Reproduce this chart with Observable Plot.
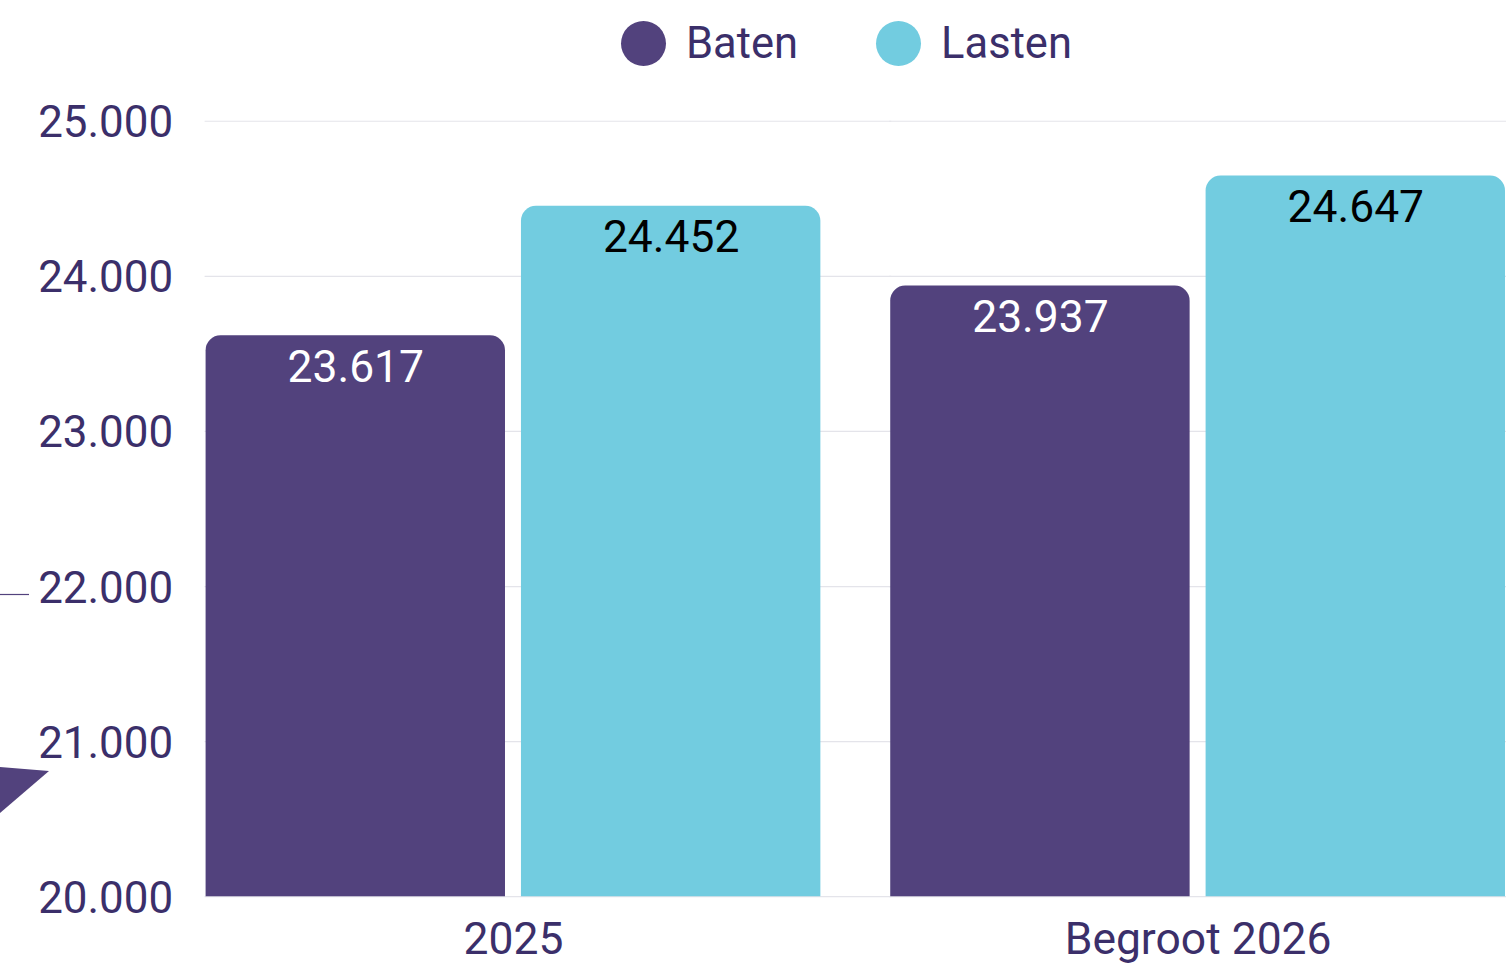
<!DOCTYPE html>
<html>
<head>
<meta charset="utf-8">
<script src="https://cdn.jsdelivr.net/npm/d3@7"></script>
<script src="https://cdn.jsdelivr.net/npm/@observablehq/plot@0.6"></script>
<style>
  html, body { margin: 0; padding: 0; background: #fff; overflow: hidden; width: 1506px; height: 966px; font-family: Roboto, sans-serif; }
  #wrap { position: relative; width: 1506px; height: 966px; overflow: hidden; }
  #legend { position: absolute; left: 621px; top: 20px; height: 46px; display: flex; align-items: center; font-size: 43.5px; color: #3b2f6a; z-index: 2; }
  .item { display: flex; align-items: center; }
  .sw { width: 45px; height: 45px; border-radius: 50%; margin-right: 20px; }
  #deco { position: absolute; left: 0; top: 0; z-index: 1; pointer-events: none; }
  #chart { position: absolute; left: 0; top: 0; }
</style>
</head>
<body>
<div id="wrap">
  <div id="legend"></div>
  <svg id="deco" width="60" height="966">
    <line x1="0" x2="29" y1="594.5" y2="594.5" stroke="#52427d" stroke-width="1.2"/>
    <polygon points="0,767 49,771 0,813" fill="#52427d"/>
  </svg>
  <div id="chart"></div>
</div>
<script>
const categories = ["2025", "Begroot 2026"];
const series = ["Baten", "Lasten"];
const baten = [23617, 23937];
const lasten = [24452, 24647];
const yTicks = [20000, 21000, 22000, 23000, 24000, 25000];
const colors = ["#52427d", "#72cce0"];
const labelColors = ["#ffffff", "#000000"];

const nl = d3.formatLocale({decimal: ",", thousands: ".", grouping: [3], currency: ["€ ", ""]});
const fmt = nl.format(",d");

const data = categories.flatMap((c, i) => [
  {cat: c, series: series[0], value: baten[i]},
  {cat: c, series: series[1], value: lasten[i]}
]);

// legend
const legend = document.getElementById("legend");
series.forEach((s, i) => {
  const it = document.createElement("div");
  it.className = "item";
  it.style.marginRight = i === 0 ? "78px" : "0";
  const sw = document.createElement("div");
  sw.className = "sw";
  sw.style.background = colors[i];
  const t = document.createElement("span");
  t.textContent = s;
  it.appendChild(sw); it.appendChild(t);
  legend.appendChild(it);
});

const chart = Plot.plot({
  width: 1509,
  height: 966,
  marginTop: 121,
  marginBottom: 68,
  marginLeft: 205,
  marginRight: 0,
  style: {fontFamily: "Roboto, sans-serif", fontSize: "44.5px", color: "#3b2f6a", background: "transparent", overflow: "visible"},
  fx: {domain: categories, paddingInner: 0.0993, paddingOuter: 0, label: null, axis: null},
  x: {domain: series, paddingInner: 0.05, paddingOuter: 0, axis: null},
  y: {domain: [20000, 25000], axis: null},
  color: {domain: series, range: colors},
  marks: [
    Plot.ruleY(yTicks, {stroke: "#e4e4ea", strokeWidth: 1.2, insetRight: -70}),
    Plot.barY(data, {fx: "cat", x: "series", y1: 19700, y2: "value", fill: "series", rx: 15, clip: true}),
    Plot.text(data, {
      fx: "cat", x: "series", y: "value",
      text: d => fmt(d.value),
      fill: d => labelColors[series.indexOf(d.series)],
      dy: 32, lineAnchor: "middle", fontSize: 44.5
    }),
    Plot.axisY(yTicks, {tickFormat: fmt, tickSize: 0, tickPadding: 32, dy: 2, label: null, fontSize: 44}),
    Plot.axisFx({anchor: "bottom", tickSize: 0, tickPadding: 26, label: null, fontSize: 44.5})
  ]
});
document.getElementById("chart").appendChild(chart);
</script>
</body>
</html>
